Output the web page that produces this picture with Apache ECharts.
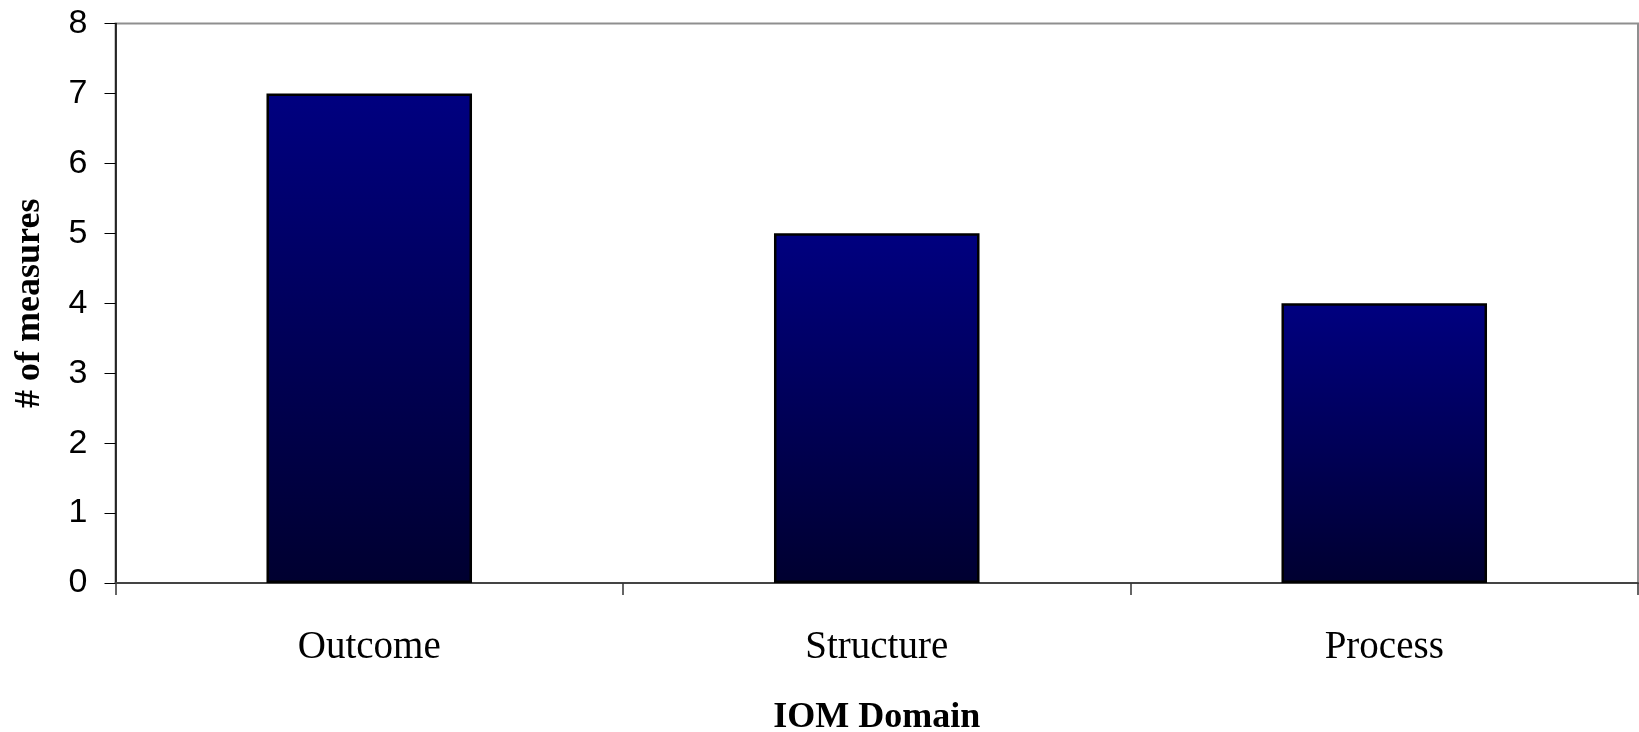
<!DOCTYPE html>
<html>
<head>
<meta charset="utf-8">
<script src="https://cdn.jsdelivr.net/npm/echarts@6/dist/echarts.min.js"></script>
<style>
  html, body { margin: 0; padding: 0; background: #fff; }
  #chart { width: 1639px; height: 732px; }
</style>
</head>
<body>
<div id="chart"></div>
<script>
// Number of quality measures per IOM domain
const domains = ['Outcome', 'Structure', 'Process'];
const measureCounts = [7, 5, 4];
const yTicks = { min: 0, max: 8, interval: 1 };

const chart = echarts.init(document.getElementById('chart'), null, { renderer: 'canvas' });

chart.setOption({
  animation: false,
  backgroundColor: '#ffffff',
  grid: {
    left: 115.5,
    right: 1,
    top: 23.5,
    bottom: 149,
    containLabel: false,
    outerBoundsMode: 'none',
    show: true,
    borderColor: '#8f8f8f',
    borderWidth: 2,
    backgroundColor: '#ffffff'
  },
  xAxis: {
    type: 'category',
    data: domains,
    name: 'IOM Domain',
    nameLocation: 'middle',
    nameGap: 117,
    nameTextStyle: {
      fontFamily: 'Liberation Serif',
      fontWeight: 'bold',
      fontSize: 36,
      color: '#000'
    },
    axisLine: { lineStyle: { color: '#444', width: 2 } },
    axisTick: { show: true, length: 12, lineStyle: { color: '#333', width: 1.5 } },
    axisLabel: {
      margin: 45,
      fontFamily: 'Liberation Serif',
      fontSize: 39,
      color: '#000'
    },
    splitLine: { show: false }
  },
  yAxis: {
    type: 'value',
    min: yTicks.min,
    max: yTicks.max,
    interval: yTicks.interval,
    name: '# of measures',
    nameLocation: 'middle',
    nameGap: 68,
    nameRotate: 90,
    nameTextStyle: {
      fontFamily: 'Liberation Serif',
      fontWeight: 'bold',
      fontSize: 36,
      color: '#000'
    },
    axisLine: { show: true, lineStyle: { color: '#000', width: 1.5 } },
    axisTick: { show: true, length: 11, lineStyle: { color: '#000', width: 1 } },
    axisLabel: {
      margin: 28,
      fontFamily: 'Liberation Sans',
      fontSize: 34,
      color: '#000'
    },
    splitLine: { show: false }
  },
  series: [{
    type: 'bar',
    data: measureCounts,
    barWidth: '40.5%',
    itemStyle: {
      color: new echarts.graphic.LinearGradient(0, 0, 0, 1, [
        { offset: 0, color: '#000080' },
        { offset: 1, color: '#000030' }
      ]),
      borderColor: '#000',
      borderWidth: 2.5
    }
  }]
});
</script>
</body>
</html>
